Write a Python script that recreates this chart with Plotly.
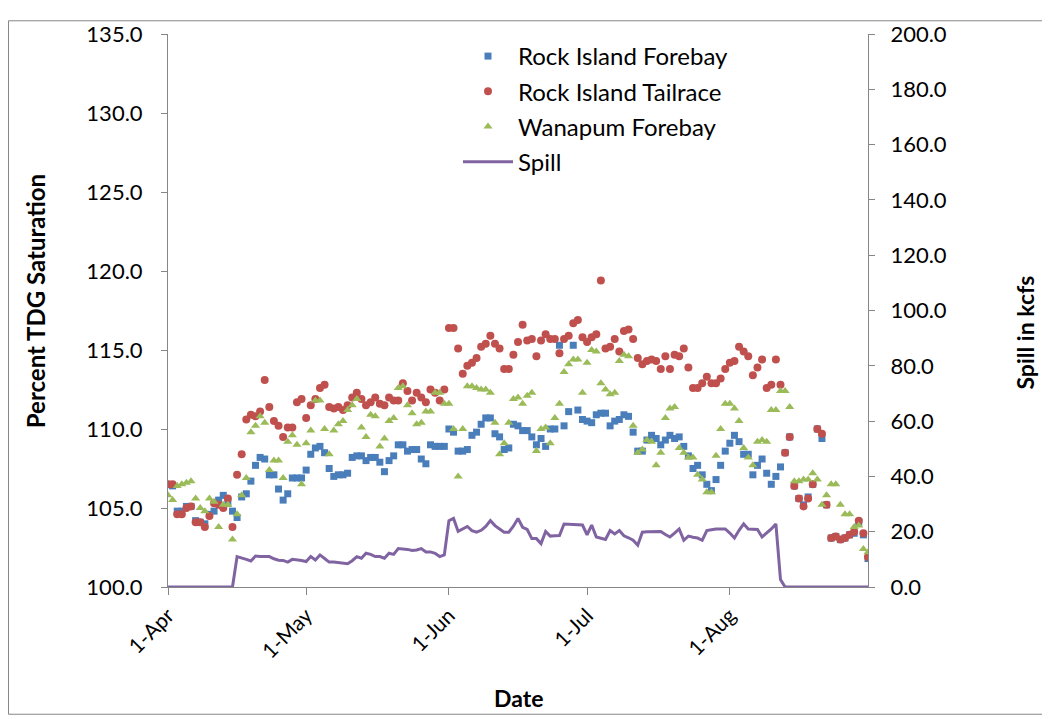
import pandas as pd
import plotly.graph_objects as go

dates = pd.date_range("2012-04-01", "2012-08-31", freq="D")

forebay = [106.5, 106.4, 104.8, 104.8, 105.1, 105.1, 104.2, 104.1, 104.0, 104.6,
           104.8, 105.5, 105.8, 105.3, 104.8, 104.4, 105.7, 105.9, 106.7, 107.7,
           108.2, 108.1, 107.1, 107.1, 106.2, 105.5, 105.9, 106.9, 106.9, 106.9,
           107.4, 108.4, 108.8, 108.9, 108.5, 107.5, 107.0, 107.1, 107.1, 107.2,
           108.2, 108.3, 108.3, 108.0, 108.2, 108.2, 107.9, 107.3, 108.0, 108.3,
           109.0, 109.0, 108.6, 108.7, 108.7, 108.1, 107.8, 109.0, 108.9, 108.9,
           108.9, 110.0, 109.8, 108.6, 108.6, 108.7, 109.6, 109.8, 110.3, 110.7,
           110.7, 109.7, 109.5, 108.7, 108.8, 110.3, 110.2, 109.9, 109.9, 109.5,
           109.0, 109.4, 108.9, 110.0, 110.0, 115.3, 110.2, 111.1, 115.3, 111.2,
           110.6, 110.5, 110.4, 110.9, 111.0, 111.0, 110.2, 110.5, 110.6, 110.9,
           110.8, 109.8, 108.6, 108.6, 109.3, 109.6, 109.4, 109.0, 109.3, 109.6,
           109.4, 109.5, 108.9, 108.3, 107.5, 107.7, 107.1, 106.5, 106.1, 106.8,
           107.7, 108.6, 109.1, 109.6, 109.2, 108.4, 108.4, 107.1, 107.7, 108.1,
           107.2, 106.5, 107.0, 107.6, 108.5, 109.5, 106.4, 105.6, 105.2, 105.7,
           106.5, 110.0, 109.4, 105.2, 103.1, 103.2, 103.0, 103.1, 103.3, 103.4,
           104.1, 103.3, 101.8]

tailrace = [106.5, 106.5, 104.6, 104.6, 105.0, 105.1, 104.1, 104.1, 103.8, 104.5,
            105.3, 105.2, 105.0, 105.6, 103.8, 107.1, 108.4, 110.6, 110.9, 110.8,
            111.1, 113.1, 111.4, 110.5, 110.2, 109.5, 110.1, 110.1, 111.7, 111.9,
            110.7, 111.5, 111.9, 112.6, 112.8, 111.4, 111.3, 111.4, 111.2, 111.5,
            112.0, 112.3, 111.9, 111.5, 111.7, 112.0, 111.6, 111.5, 112.0, 111.8,
            111.8, 112.9, 112.4, 111.8, 112.3, 112.0, 111.7, 112.5, 112.3, 111.8,
            112.5, 116.4, 116.4, 115.1, 113.5, 114.0, 114.2, 114.5, 115.2, 115.4,
            115.9, 115.4, 115.1, 113.8, 113.8, 114.7, 115.5, 116.6, 115.6, 115.7,
            114.6, 115.6, 116.0, 115.7, 115.7, 114.8, 115.7, 115.9, 116.7, 116.9,
            115.8, 115.5, 115.8, 116.0, 119.4, 115.1, 115.2, 115.7, 114.9, 116.2,
            116.3, 115.7, 114.5, 114.1, 114.3, 114.4, 114.3, 113.8, 114.6, 113.8,
            114.7, 114.6, 115.1, 113.9, 112.6, 112.6, 112.9, 113.3, 112.9, 112.9,
            113.2, 113.8, 114.2, 114.3, 115.2, 114.9, 114.6, 113.4, 113.9, 114.4,
            112.6, 112.8, 114.4, 112.8, 108.5, 109.5, 106.4, 105.6, 105.1, 105.6,
            106.5, 110.0, 109.7, 105.2, 103.1, 103.2, 103.0, 103.1, 103.3, 103.5,
            104.2, 103.4, 101.9]

wanapum = [105.8, 105.5, 106.4, 106.5, 106.6, 106.7, 105.6, 105.0, 104.8, 105.6,
           105.4, 103.8, 105.2, 105.2, 103.0, 104.6, 105.8, 106.9, 109.8, 110.2,
           110.8, 110.4, 107.4, 108.0, 108.0, 106.9, 109.2, 109.6, 109.0, 106.5,
           109.1, 109.9, 111.8, 111.8, 110.0, 108.4, 109.9, 110.3, 110.5, 111.2,
           111.5, 111.9, 110.1, 109.5, 110.9, 110.8, 108.9, 109.4, 110.5, 110.7,
           112.6, 112.7, 111.5, 111.0, 110.3, 110.4, 111.1, 111.1, 112.3, 112.3,
           111.6, 111.6, 110.0, 107.0, 110.0, 112.7, 112.7, 112.6, 112.5, 112.5,
           112.3, 110.4, 108.4, 109.1, 110.4, 111.9, 112.0, 111.6, 112.1, 112.3,
           108.6, 110.0, 110.1, 109.1, 110.7, 111.6, 113.6, 114.1, 114.4, 114.4,
           112.3, 114.2, 115.0, 114.9, 112.9, 112.5, 112.2, 112.3, 114.3, 114.7,
           114.6, 110.2, 108.5, 108.7, 109.3, 109.2, 107.7, 108.5, 110.7, 111.3,
           111.4, 108.8, 108.5, 108.2, 108.2, 107.1, 106.8, 106.0, 106.0, 108.3,
           110.0, 111.6, 111.6, 111.3, 110.5, 108.8, 108.2, 107.7, 109.2, 109.3,
           109.2, 111.2, 111.2, 112.4, 112.4, 111.4, 106.7, 106.7, 106.8, 106.8,
           107.2, 106.8, 105.2, 105.8, 106.5, 106.5, 105.2, 104.6, 104.6, 103.8,
           103.9, 102.4, 102.2]

spill = [0, 0, 0, 0, 0, 0, 0, 0, 0, 0,
         0, 0, 0, 0, 0, 11.0, 10.6, 10.0, 9.4, 11.2,
         11.0, 11.0, 11.0, 10.2, 9.7, 9.6, 9.0, 10.0, 9.9, 9.6,
         9.2, 11.0, 9.8, 11.6, 10.3, 9.0, 9.0, 8.8, 8.5, 8.4,
         9.5, 11.0, 10.4, 12.2, 11.8, 11.0, 11.0, 10.4, 12.2, 11.8,
         13.9, 13.8, 13.6, 13.2, 13.4, 13.9, 12.7, 12.7, 12.2, 11.0,
         11.6, 24.0, 24.8, 20.1, 21.0, 21.9, 20.4, 19.8, 20.5, 21.9,
         24.0, 22.2, 21.0, 19.8, 19.8, 22.0, 24.8, 21.6, 20.8, 17.5,
         17.5, 15.7, 20.1, 18.4, 18.5, 18.6, 22.8, 22.7, 22.5, 22.4,
         22.4, 18.9, 22.4, 18.1, 17.6, 17.2, 20.4, 19.2, 20.4, 18.5,
         17.8, 16.9, 15.1, 19.8, 20.0, 20.1, 20.1, 20.1, 19.0, 18.1,
         19.5, 21.0, 16.9, 18.4, 18.0, 17.7, 16.9, 20.4, 20.7, 21.0,
         21.0, 21.0, 19.5, 17.7, 20.5, 22.8, 21.0, 21.0, 20.8, 18.1,
         19.5, 21.0, 22.8, 2.7, 0, 0, 0, 0, 0, 0,
         0, 0, 0, 0, 0, 0, 0, 0, 0, 0,
         0, 0, 0]

tick_dates = ["2012-04-01", "2012-05-01", "2012-06-01", "2012-07-01", "2012-08-01"]
left_ticks = [100, 105, 110, 115, 120, 125, 130, 135]
right_ticks = [0, 20, 40, 60, 80, 100, 120, 140, 160, 180, 200]

FONT = "Lato"
AX = "#868686"

# page offset (body margin) compensation
L, T, W, H = 160, 14, 700, 565
OX, OY = 8, 8


def px(xpix):
    return (xpix - OX - L) / W


def py(ypix):
    return (T + H - (ypix - OY)) / H


fig = go.Figure()
fig.add_trace(go.Scatter(x=dates, y=forebay, mode="markers", name="Rock Island Forebay",
                         legendgroup="a",
                         marker=dict(symbol="square", size=7, color="#4A7EBB")))
fig.add_trace(go.Scatter(x=dates, y=tailrace, mode="markers", name="Rock Island Tailrace",
                         legendgroup="b",
                         marker=dict(symbol="circle", size=8, color="#C0504D")))
fig.add_trace(go.Scatter(x=dates, y=wanapum, mode="markers", name="Wanapum Forebay",
                         legendgroup="c",
                         marker=dict(symbol="triangle-up", size=8, color="#9BBB59")))
fig.add_trace(go.Scatter(x=dates, y=spill, mode="lines", name="Spill", yaxis="y2",
                         legendgroup="d",
                         line=dict(color="#8064A2", width=3)))

fig.update_layout(
    width=1050, height=719,
    margin=dict(l=L, r=1050 - L - W, t=T, b=719 - T - H, pad=0),
    paper_bgcolor="white", plot_bgcolor="white",
    font=dict(family=FONT, size=22, color="#000000"),
    showlegend=True,
    legend=dict(x=px(458), y=py(22), xanchor="left", yanchor="top",
                bgcolor="rgba(0,0,0,0)", font=dict(size=24, family=FONT),
                tracegroupgap=1, itemwidth=50),
    xaxis=dict(type="date", range=["2012-04-01", "2012-08-31"],
               tickvals=tick_dates, tickformat="%-d-%b", tickangle=-45,
               showline=True, linecolor=AX, linewidth=1,
               ticks="outside", ticklen=7, tickcolor=AX,
               showgrid=False, zeroline=False,
               tickfont=dict(size=21, family=FONT)),
    yaxis=dict(range=[100, 135], tickvals=left_ticks, tickformat=".1f",
               showline=True, linecolor=AX, linewidth=1,
               ticks="outside", ticklen=6, tickcolor=AX,
               showgrid=False, zeroline=False, ticklabeloverflow="allow",
               ticklabelstandoff=14,
               tickfont=dict(size=22, family=FONT)),
    yaxis2=dict(range=[0, 200], tickvals=right_ticks, tickformat=".1f",
                overlaying="y", side="right",
                showline=True, linecolor=AX, linewidth=1,
                ticks="outside", ticklen=6, tickcolor=AX,
                showgrid=False, zeroline=False, ticklabeloverflow="allow",
                ticklabelstandoff=11,
                tickfont=dict(size=22, family=FONT)),
    shapes=[dict(type="rect", xref="paper", yref="paper",
                 x0=px(8.5), x1=px(1045), y0=py(717), y1=py(8.5),
                 line=dict(color=AX, width=1), fillcolor="rgba(0,0,0,0)", layer="below")],
    annotations=[
        dict(text="<b>Percent TDG Saturation</b>", xref="paper", yref="paper",
             x=px(35), y=py(295), textangle=-90, showarrow=False,
             font=dict(size=24, family=FONT), xanchor="center", yanchor="middle"),
        dict(text="<b>Spill in kcfs</b>", xref="paper", yref="paper",
             x=px(1025), y=py(327), textangle=-90, showarrow=False,
             font=dict(size=23, family=FONT), xanchor="center", yanchor="middle"),
        dict(text="<b>Date</b>", xref="paper", yref="paper",
             x=px(518), y=py(700), showarrow=False,
             font=dict(size=23, family=FONT), xanchor="center", yanchor="middle"),
    ],
)

fig.write_html("out.html")
